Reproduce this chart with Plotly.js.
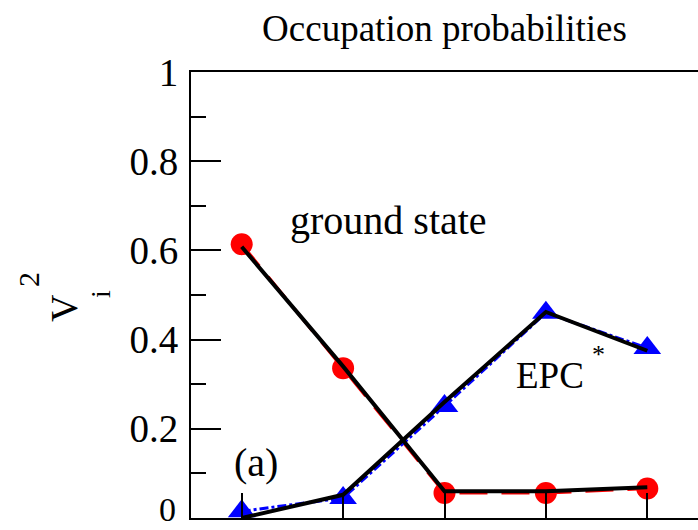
<!DOCTYPE html>
<html>
<head>
<meta charset="utf-8">
<script src="https://cdn.plot.ly/plotly-3.0.1.min.js"></script>
<style>html,body{margin:0;padding:0;background:#fff;}#chart{width:698px;height:530px;}</style>
</head>
<body>
<div id="chart"></div>
<script>
// Data
const states = [1, 2, 3, 4, 5];
const groundMarkers = [0.614, 0.336, 0.056, 0.056, 0.066];
const groundLine    = [0.608, 0.340, 0.060, 0.060, 0.069];
const epcMarkers    = [0.015, 0.045, 0.251, 0.460, 0.381];
const epcLine       = [0.000, 0.052, 0.260, 0.462, 0.375];
const yTickVals  = [0, 0.2, 0.4, 0.6, 0.8, 1];
const yTickText  = ['', '0.2', '0.4', '0.6', '0.8', '1'];
const yZeroLabel = '0';

const serif = 'Liberation Serif';

const traces = [
  {x: states, y: groundMarkers, type: 'scatter', mode: 'lines+markers',
   line: {color: '#ff0000', width: 3, dash: '28px,14px'},
   marker: {symbol: 'circle', size: 22, color: '#ff0000'}, hoverinfo: 'skip'},
  {x: states, y: epcMarkers, type: 'scatter', mode: 'lines+markers',
   line: {color: '#0000ff', width: 3, dash: 'dashdot'},
   marker: {symbol: 'triangle-up', size: 24, color: '#0000ff'}, hoverinfo: 'skip'},
  {x: states, y: groundLine, type: 'scatter', mode: 'lines',
   line: {color: '#000000', width: 4}, hoverinfo: 'skip'},
  {x: states, y: epcLine, type: 'scatter', mode: 'lines',
   line: {color: '#000000', width: 4}, hoverinfo: 'skip'}
];

const layout = {
  width: 698, height: 530,
  margin: {l: 191, r: 0, t: 72, b: 12},
  paper_bgcolor: '#ffffff', plot_bgcolor: '#ffffff',
  showlegend: false,
  font: {family: serif, color: '#000'},
  title: {text: 'Occupation probabilities', font: {family: serif, size: 37, color: '#000'},
          xref: 'paper', x: 0.5, xanchor: 'center', y: 0.948, yanchor: 'middle'},
  xaxis: {range: [0.5, 5.5], tickvals: states, showticklabels: false,
          ticks: 'inside', ticklen: 25, tickwidth: 2, tickcolor: '#000',
          showline: true, linecolor: '#000', linewidth: 2, mirror: true,
          showgrid: false, zeroline: false, fixedrange: true},
  yaxis: {range: [0, 1], tickvals: yTickVals, ticktext: yTickText,
          ticks: 'inside', ticklen: 30, tickwidth: 2, tickcolor: '#000',
          minor: {dtick: 0.1, ticks: 'inside', ticklen: 15, tickwidth: 2, tickcolor: '#000', showgrid: false},
          ticklabelstandoff: 3,
          tickfont: {family: serif, size: 39, color: '#000'},
          showline: true, linecolor: '#000', linewidth: 2, mirror: true,
          showgrid: false, zeroline: false, fixedrange: true},
  annotations: [
    {text: yZeroLabel, xref: 'paper', yref: 'y', x: (177-191)/507, y: 0, yshift: -11,
     xanchor: 'right', yanchor: 'bottom', showarrow: false, borderpad: 0,
     font: {family: serif, size: 34, color: '#000'}},
    {text: 'ground state', xref: 'paper', yref: 'paper', x: (388-191)/507, y: (518-221)/446,
     xanchor: 'center', yanchor: 'middle', showarrow: false, font: {family: serif, size: 40, color: '#000'}},
    {text: 'EPC', xref: 'paper', yref: 'paper', x: (550-191)/507, y: (518-375)/446,
     xanchor: 'center', yanchor: 'middle', showarrow: false, font: {family: serif, size: 37, color: '#000'}},
    {text: '*', xref: 'paper', yref: 'paper', x: (598-191)/507, y: (518-354)/446,
     xanchor: 'center', yanchor: 'middle', showarrow: false, font: {family: serif, size: 26, color: '#000'}},
    {text: '(a)', xref: 'paper', yref: 'paper', x: (256-191)/507, y: (518-462)/446,
     xanchor: 'center', yanchor: 'middle', showarrow: false, font: {family: serif, size: 40, color: '#000'}},
    {text: 'V', xref: 'paper', yref: 'paper', x: (64-191)/507, y: (518-308)/446, textangle: -90,
     xanchor: 'center', yanchor: 'middle', showarrow: false, font: {family: serif, size: 38, color: '#000'}},
    {text: 'i', xref: 'paper', yref: 'paper', x: (100-191)/507, y: (518-294)/446, textangle: -90,
     xanchor: 'center', yanchor: 'middle', showarrow: false, font: {family: serif, size: 28, color: '#000'}},
    {text: '2', xref: 'paper', yref: 'paper', x: (28-191)/507, y: (518-280)/446, textangle: -90,
     xanchor: 'center', yanchor: 'middle', showarrow: false, font: {family: serif, size: 30, color: '#000'}}
  ]
};

Plotly.newPlot('chart', traces, layout, {displayModeBar: false, staticPlot: true});
</script>
</body>
</html>
